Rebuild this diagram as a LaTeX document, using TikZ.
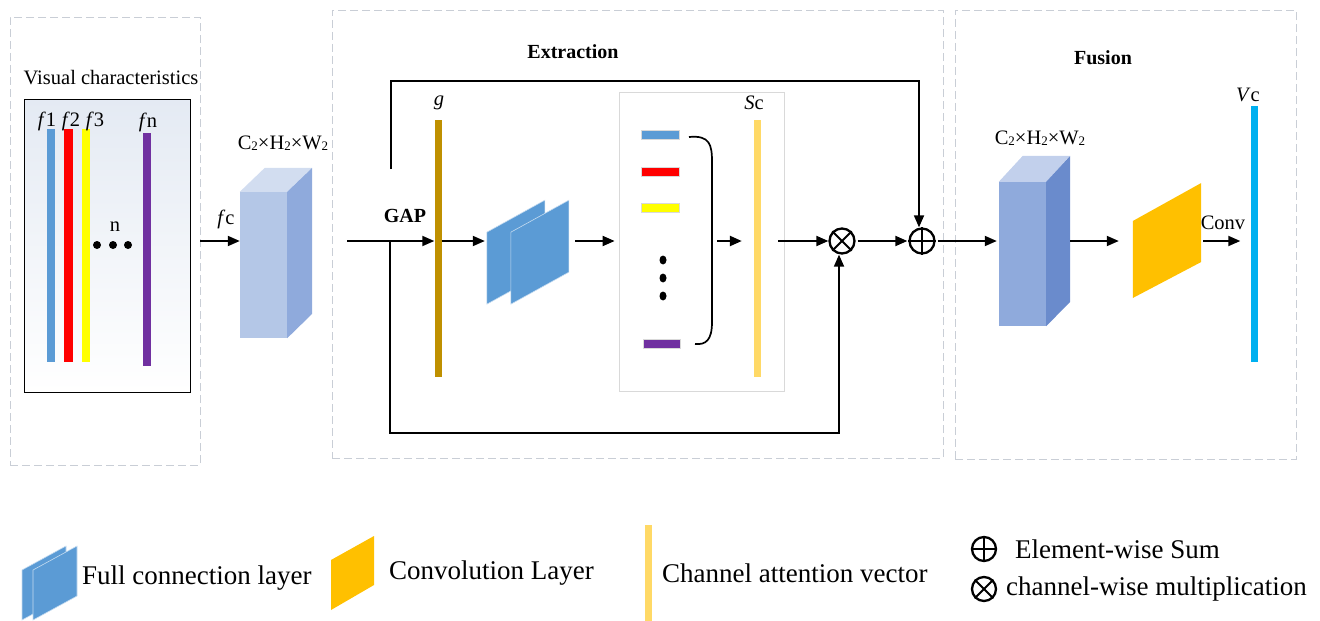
\documentclass[tikz,border=0pt]{standalone}
\usepackage{fontspec}
\setmainfont{Liberation Serif}
\usetikzlibrary{arrows.meta,calc}
\definecolor{panelgray}{HTML}{C9CED6}
\definecolor{fcblue}{HTML}{5B9BD5}
\definecolor{convyel}{HTML}{FFC000}
\definecolor{gcol}{HTML}{BF9000}
\definecolor{sccol}{HTML}{FFD966}
\definecolor{vccol}{HTML}{00B0F0}
\definecolor{fred}{HTML}{FF0000}
\definecolor{fyel}{HTML}{FFFF00}
\definecolor{fpur}{HTML}{7030A0}
\definecolor{cubeAfront}{HTML}{B4C7E7}
\definecolor{cubeAside}{HTML}{8FAADC}
\definecolor{cubeAtop}{HTML}{D2DDF0}
\definecolor{cubeBfront}{HTML}{8FAADC}
\definecolor{cubeBside}{HTML}{6A8BCC}
\definecolor{cubeBtop}{HTML}{C2D0EC}
\definecolor{boxgray}{HTML}{D9D9D9}
\definecolor{boxtop}{HTML}{E4EAF3}
\tikzset{
  panel/.style={draw=panelgray, dash pattern=on 8pt off 4pt, line width=0.9pt, inner sep=0},
  arr/.style={-{Triangle[length=12pt,width=10pt]}, line width=1.8pt},
  ln/.style={line width=1.7pt},
  vbar/.style={rectangle, inner sep=0, draw=none},
  lbl/.style={font=\fontsize{20.5}{24}\selectfont, inner sep=0},
  blbl/.style={font=\fontsize{20}{24}\selectfont\bfseries, inner sep=0},
  leg/.style={font=\fontsize{27}{31}\selectfont, inner sep=0, anchor=west},
  sheet/.style={fill=fcblue, draw=white!65!fcblue, line width=0.6pt},
  opnode/.style={circle, draw, line width=2.3pt, minimum size=25pt, inner sep=0},
  opline/.style={line width=1.8pt},
}
\newcommand{\subtwo}{\raisebox{-1pt}{\fontsize{13}{13}\selectfont 2}}
\begin{document}
\begin{tikzpicture}[x=1pt,y=-1pt]
\useasboundingbox (0,0) rectangle (1320,621);
\coordinate (mid) at (0,241);
% panels
\node[panel, minimum width=190, minimum height=448] (lpanel) at (105,241) {};
\node[panel, minimum width=611, minimum height=448] (mpanel) at (637.5,234) {};
\node[panel, minimum width=341, minimum height=449] (rpanel) at (1125.5,234.5) {};
% left panel
\node[lbl] (vislbl) at (111,78) {Visual characteristics};
\node[draw=black, line width=1pt, top color=boxtop, middle color=white, bottom color=white, minimum width=166, minimum height=293, inner sep=0] (vbox) at (107,245.5) {};
\node[vbar, fill=fcblue, minimum width=8, minimum height=233] (f1) at (51,245.5) {};
\node[vbar, fill=fred, minimum width=9, minimum height=233] (f2) at (68.5,245.5) {};
\node[vbar, fill=fyel, minimum width=8, minimum height=233] (f3) at (86,245.5) {};
\node[vbar, fill=fpur, minimum width=8, minimum height=233] (fn) at (147,249.5) {};
\node[lbl] (f1l) at (47,121) {\textit{f}1};
\node[lbl] (f2l) at (71,121) {\textit{f}2};
\node[lbl] (f3l) at (95,121) {\textit{f}3};
\node[lbl] (fnl) at (148,122) {\textit{f}n};
\node[lbl] (nl) at (115,227) {n};
\fill (97,245) circle (4);
\fill (113,245) circle (4);
\fill (128,245) circle (4);
% cube 1
\node[vbar, fill=cubeAfront, minimum width=47, minimum height=146] (cube1) at (263.5,265) {};
\fill[cubeAtop] (cube1.north west) -- ++(25,-24) -- ++(47,0) -- (cube1.north east) -- cycle;
\fill[cubeAside] (cube1.north east) -- ++(25,-24) -- ++(0,146) -- (cube1.south east) -- cycle;
\node[lbl] (c1lbl) at (283,143) {C\subtwo×H\subtwo×W\subtwo};
\draw[arr] (lpanel.east |- mid) -- (cube1.west |- mid);
\node[lbl] (fclbl) at (226,219) {\textit{f}c};
% middle panel
\node[blbl] (extr) at (573,52) {Extraction};
\node[blbl] (gap) at (405,216) {GAP};
\coordinate (inp) at (347,241);
\node[vbar, fill=gcol, minimum width=7, minimum height=257] (g) at (438,248.5) {};
\node[lbl] (glbl) at (439,103) {\textit{g}};
\draw[arr] (inp) -- (g.west |- mid);
% FC sheets
\node[inner sep=0, minimum width=82, minimum height=104] (fc) at (528,252) {};
\fill[sheet] (fc.south west) -- ++(0,-72) -- ++(58,-32) -- ++(0,72) -- cycle;
\fill[sheet] ($(fc.south west)+(24,0)$) -- ++(0,-72) -- ++(58,-32) -- ++(0,72) -- cycle;
\draw[arr, shorten >=2pt] (g.east |- mid) -- (fc.west |- mid);
% selection box
\node[draw=boxgray, line width=0.8pt, minimum width=165, minimum height=299, inner sep=0] (sbox) at (701.5,241.5) {};
\draw[arr, shorten <=6pt, shorten >=4pt] (fc.east |- mid) -- (sbox.west |- mid);
\node[vbar, fill=fcblue, draw=boxgray, line width=0.5pt, minimum width=38, minimum height=9] (b1) at (660,134.5) {};
\node[vbar, fill=fred, draw=boxgray, line width=0.5pt, minimum width=38, minimum height=9] (b2) at (660,172) {};
\node[vbar, fill=fyel, draw=boxgray, line width=0.5pt, minimum width=38, minimum height=9] (b3) at (660,208) {};
\node[vbar, fill=fpur, draw=boxgray, line width=0.5pt, minimum width=37, minimum height=9] (b4) at (662,343.5) {};
\fill (663,260) ellipse (3.5 and 4.5);
\fill (663,278) ellipse (3.5 and 4.5);
\fill (663,296) ellipse (3.5 and 4.5);
\draw[ln] (689,137) .. controls (710,135) and (712,145) .. (712,162) -- (712,322) .. controls (712,340) and (706,345) .. (695,344);
\node[vbar, fill=sccol, minimum width=7, minimum height=257] (sc) at (757.5,248.5) {};
\node[lbl] (sclbl) at (754,103) {\textit{S}c};
\coordinate (brk) at (717,241);
\draw[arr, line width=2.3pt, shorten >=12pt] (brk) -- (sc.west |- mid);
% operators
\node[opnode] (ot) at (842,241) {};
\draw[opline] (ot.45) -- (ot.225) (ot.135) -- (ot.315);
\node[opnode] (op) at (922,241) {};
\draw[opline] (op.north) -- (op.south) (op.west) -- (op.east);
\draw[arr, shorten <=17pt] (sc.east |- mid) -- (ot.west);
\draw[arr, shorten <=2pt, shorten >=1pt] (ot.east) -- (op.west);
\coordinate (skipstart) at (391,169);
\draw[arr] (skipstart) -- (391,81) -| ([xshift=-3pt]op.north);
\coordinate (loopstart) at (390,241);
\draw[arr] (loopstart) -- (390,433) -| ([xshift=-3pt]ot.south);
% right panel
\node[blbl] (fus) at (1103,58) {Fusion};
\node[vbar, fill=cubeBfront, minimum width=47, minimum height=144] (cube2) at (1022.5,254) {};
\fill[cubeBtop] (cube2.north west) -- ++(24,-26) -- ++(47,0) -- (cube2.north east) -- cycle;
\fill[cubeBside] (cube2.north east) -- ++(24,-26) -- ++(0,146) -- (cube2.south east) -- cycle;
\node[lbl] (c2lbl) at (1040,138) {C\subtwo×H\subtwo×W\subtwo};
\draw[arr, shorten <=2pt, shorten >=2pt] (op.east) -- (cube2.west |- mid);
\node[inner sep=0, minimum width=68, minimum height=115] (conv) at (1167,240.5) {};
\fill[convyel] (conv.west |- 0,298) -- (conv.west |- 0,221) -- (conv.east |- 0,183) -- (conv.east |- 0,262) -- cycle;
\coordinate (c2out) at (1070,241);
\draw[arr, shorten >=14pt] (c2out) -- (conv.west |- mid);
\node[vbar, fill=vccol, minimum width=7, minimum height=256] (vc) at (1254,234) {};
\node[lbl] (vclbl) at (1248,95) {\textit{V}c};
\node[lbl] (convlbl) at (1223,223) {Conv};
\draw[arr, shorten <=2pt, shorten >=10pt] (conv.east |- mid) -- (vc.west |- mid);
% legend
\fill[sheet] (22,620) -- (22,570) -- (66,546) -- (66,596) -- cycle;
\fill[sheet] (33,620) -- (33,570) -- (77,546) -- (77,596) -- cycle;
\node[leg] (legfc) at (82,578) {Full connection layer};
\fill[convyel] (331,610) -- (331,560) -- (374,536) -- (374,585) -- cycle;
\node[leg] (legconv) at (389,573) {Convolution Layer};
\node[vbar, fill=sccol, minimum width=7, minimum height=96] (legsc) at (648.5,573) {};
\node[leg] (legca) at (662,573) {Channel attention vector};
\node[opnode, minimum size=24pt] (legop) at (984,549) {};
\draw[opline] (legop.north) -- (legop.south) (legop.west) -- (legop.east);
\node[leg] (legsum) at (1015,549) {Element-wise Sum};
\node[opnode, minimum size=24pt] (legot) at (984,589) {};
\draw[opline] (legot.45) -- (legot.225) (legot.135) -- (legot.315);
\node[leg] (legmul) at (1006,589) {channel-wise multiplication};
\end{tikzpicture}
\end{document}
